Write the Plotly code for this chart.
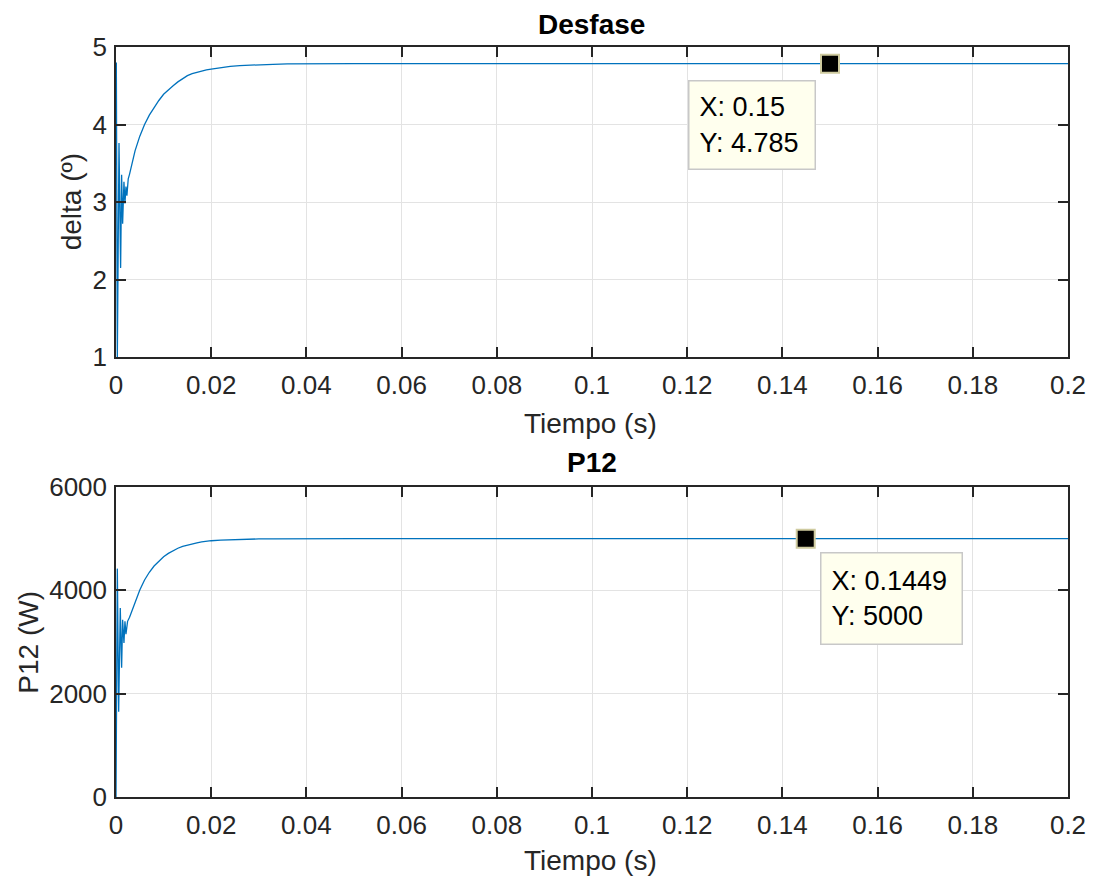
import plotly.graph_objects as go

# ---------------- data ----------------
t_delta = [0, 0.00007, 0.00028, 0.00063, 0.00097, 0.00118, 0.00139, 0.00167, 0.00188,
           0.00209, 0.00229, 0.00257, 0.00285, 0.0033, 0.004, 0.005, 0.006, 0.007, 0.008,
           0.009, 0.010, 0.011, 0.012, 0.013, 0.014, 0.015, 0.016, 0.017, 0.018, 0.019,
           0.020, 0.022, 0.024, 0.026, 0.028, 0.030, 0.033, 0.036, 0.040, 0.050, 0.2]
delta = [4.6, 4.8, 1.0, 3.76, 2.15, 3.35, 2.72, 3.26, 2.98,
         3.2, 3.08, 3.3, 3.36, 3.47, 3.66, 3.85, 4.00, 4.12, 4.22,
         4.31, 4.39, 4.45, 4.50, 4.55, 4.59, 4.63, 4.655, 4.675, 4.69, 4.705,
         4.715, 4.735, 4.75, 4.76, 4.767, 4.772, 4.777, 4.781, 4.783, 4.785, 4.785]

t_p12 = [0, 0.00028, 0.00056, 0.0009, 0.00118, 0.00139, 0.00167, 0.00188, 0.00209,
         0.00243, 0.00285, 0.004, 0.005, 0.006, 0.007, 0.008, 0.009, 0.010, 0.011,
         0.012, 0.013, 0.014, 0.015, 0.016, 0.017, 0.018, 0.019, 0.020, 0.022, 0.024,
         0.026, 0.028, 0.030, 0.033, 0.036, 0.040, 0.050, 0.2]
p12 = [0, 4420, 1650, 3660, 2500, 3430, 2980, 3400, 3150,
       3400, 3480, 3760, 4005, 4200, 4350, 4470, 4570, 4650, 4715,
       4770, 4815, 4850, 4878, 4902, 4920, 4936, 4949, 4960, 4973, 4982,
       4988, 4992, 4995, 4997, 4998, 4999, 5000, 5000]

tip1 = (0.15, 4.785)
tip2 = (0.1449, 5000)

x_ticks = [0, 0.02, 0.04, 0.06, 0.08, 0.1, 0.12, 0.14, 0.16, 0.18, 0.2]
x_ticktext = ["0", "0.02", "0.04", "0.06", "0.08", "0.1", "0.12", "0.14", "0.16", "0.18", "0.2"]
y1_ticks = [1, 2, 3, 4, 5]
y2_ticks = [0, 2000, 4000, 6000]

# ---------------- styling ----------------
FONT = "Liberation Sans, Arial, Helvetica, sans-serif"
AX = "#262626"
LINE = "#0072BD"

fig = go.Figure()
fig.add_trace(go.Scatter(x=t_delta, y=delta, mode="lines",
                         line=dict(color=LINE, width=1.3), xaxis="x", yaxis="y",
                         showlegend=False, hoverinfo="skip"))
fig.add_trace(go.Scatter(x=t_p12, y=p12, mode="lines",
                         line=dict(color=LINE, width=1.3), xaxis="x2", yaxis="y2",
                         showlegend=False, hoverinfo="skip"))
# data tip markers
fig.add_trace(go.Scatter(x=[tip1[0]], y=[tip1[1]], mode="markers",
                         marker=dict(symbol="square", size=18, color="black",
                                     line=dict(color="#cfcba0", width=2)),
                         xaxis="x", yaxis="y", showlegend=False, hoverinfo="skip"))
fig.add_trace(go.Scatter(x=[tip2[0]], y=[tip2[1]], mode="markers",
                         marker=dict(symbol="square", size=18, color="black",
                                     line=dict(color="#cfcba0", width=2)),
                         xaxis="x2", yaxis="y2", showlegend=False, hoverinfo="skip"))

common_x = dict(range=[0, 0.2], tickvals=x_ticks, ticktext=x_ticktext,
                showline=True, linecolor=AX, linewidth=1.5, mirror="ticks",
                ticks="inside", ticklen=10, tickwidth=1.5, tickcolor=AX,
                showgrid=True, gridcolor="#e3e3e3", gridwidth=1, zeroline=False,
                tickfont=dict(family=FONT, size=26, color=AX), ticklabelstandoff=4,
                ticklabeloverflow="allow")
common_y = dict(showline=True, linecolor=AX, linewidth=1.5, mirror="ticks",
                ticks="inside", ticklen=10, tickwidth=1.5, tickcolor=AX,
                showgrid=True, gridcolor="#e3e3e3", gridwidth=1, zeroline=False,
                tickfont=dict(family=FONT, size=26, color=AX), ticklabelstandoff=2)

top_dom = [(797 - 357) / 750, 1.0]
bot_dom = [0.0, (797 - 487) / 750]

fig.update_layout(
    width=1098, height=879,
    margin=dict(l=116, r=23, t=47, b=82),
    paper_bgcolor="white", plot_bgcolor="white",
    xaxis=dict(common_x, domain=[0, 1], anchor="y"),
    yaxis=dict(common_y, domain=top_dom, range=[1, 5], tickvals=y1_ticks, anchor="x"),
    xaxis2=dict(common_x, domain=[0, 1], anchor="y2"),
    yaxis2=dict(common_y, domain=bot_dom, range=[0, 6000], tickvals=y2_ticks, anchor="x2"),
    font=dict(family=FONT, color=AX),
)

def pyp(px):
    return (797 - px) / 750

def pxp(px):
    return (px - 116) / 959

annots = [
    dict(text="<b>Desfase</b>", x=pxp(595), y=pyp(24), font=dict(size=28, color="black")),
    dict(text="<b>P12</b>", x=pxp(595), y=pyp(462), font=dict(size=28, color="black")),
    dict(text="Tiempo (s)", x=pxp(594), y=pyp(423), font=dict(size=28, color=AX)),
    dict(text="Tiempo (s)", x=pxp(594), y=pyp(860), font=dict(size=28, color=AX)),
    dict(text="delta (º)", x=pxp(71), y=pyp(202), font=dict(size=28, color=AX), textangle=-90),
    dict(text="P12 (W)", x=pxp(27), y=pyp(642), font=dict(size=28, color=AX), textangle=-90),
]
for a in annots:
    a.update(xref="paper", yref="paper", showarrow=False, xanchor="center", yanchor="middle")
    a["font"]["family"] = FONT
    fig.add_annotation(**a)

# data tip boxes (positioned relative to the tip points)
fig.add_annotation(text="X: 0.15<br>Y: 4.785", xref="x", yref="y",
                   x=0.1201, y=4.574, xanchor="left", yanchor="top", showarrow=False,
                   align="left", valign="middle", width=105, height=67,
                   bgcolor="#ffffee", bordercolor="#c8c8c8", borderwidth=1.5, borderpad=10,
                   font=dict(family=FONT, size=27, color="black"))
fig.add_annotation(text="X: 0.1449<br>Y: 5000", xref="x2", yref="y2",
                   x=0.14786, y=4742, xanchor="left", yanchor="top", showarrow=False,
                   align="left", valign="middle", width=120, height=70,
                   bgcolor="#ffffee", bordercolor="#c8c8c8", borderwidth=1.5, borderpad=10,
                   font=dict(family=FONT, size=27, color="black"))

fig.write_html("out.html")
